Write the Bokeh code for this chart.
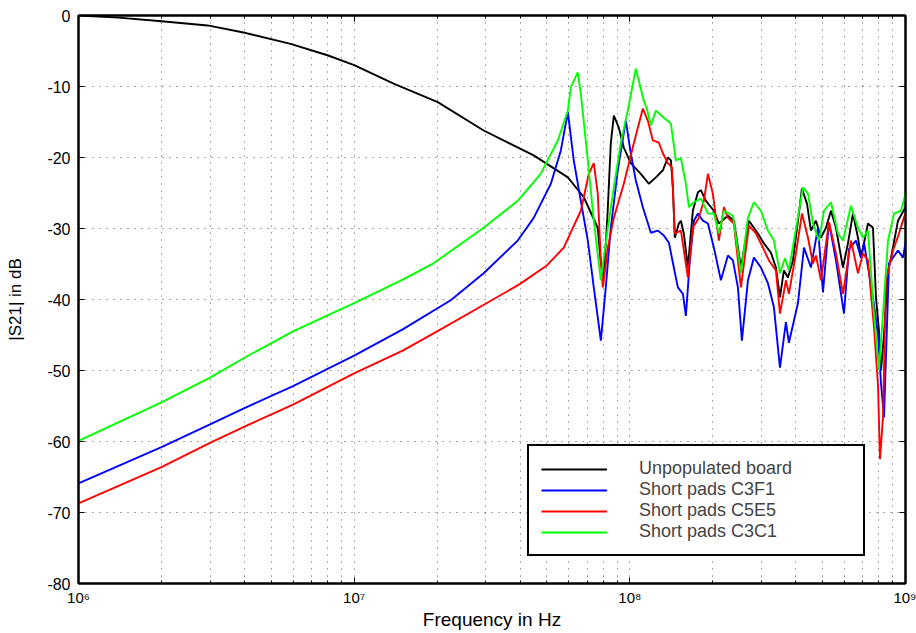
from bokeh.plotting import figure
from bokeh.models import FixedTicker, Legend, LegendItem, LinearAxis, LogAxis, Range1d
from bokeh.embed import file_html
from bokeh.resources import INLINE

FONT = "Liberation Sans"

# ---------------- data (frequency in MHz, |S21| in dB) ----------------
black_mhz = [1, 1.4, 2, 2.94, 3.97, 5.88, 8.0, 10, 13.9, 20.1,
             29.5, 44.8, 59.6, 68.1, 76.5, 78.5, 80.4, 83.0, 85.3, 87.5,
             91.2, 95.1, 100.8, 109.6, 117.2, 124.3, 131.8, 137.4, 140.9, 143.3,
             145.6, 150.6, 153.2, 157.0, 162.4, 169.3, 176.6, 181.0, 188.8, 201.8,
             210.4, 226.9, 238.5, 252.9, 270.4, 291.5, 306.5, 324.9, 338.8, 350.4,
             362.2, 374.5, 390.6, 407.3, 421.1, 439.1, 454.0, 473.4, 493.6, 514.6,
             536.6, 559.4, 593.1, 618.4, 644.8, 672.4, 689.5, 731.0, 762.1, 781.5,
             801.3, 814.8, 835.6, 864.0, 886.0, 939.3, 1000]
black_db = [0, -0.3, -0.8, -1.4, -2.4, -4.0, -5.6, -7.0, -9.6, -12.2,
            -16.2, -19.7, -22.8, -25.6, -29.9, -34.9, -36.9, -28.0, -18.0, -14.1,
            -15.8, -18.6, -20.8, -22.3, -23.7, -22.8, -21.8, -20.0, -20.4, -24.2,
            -31.3, -29.3, -28.9, -30.7, -35.5, -27.5, -24.9, -24.6, -26.1, -27.5,
            -29.3, -28.2, -28.9, -35.5, -28.9, -30.7, -32.1, -33.4, -35.5, -39.7,
            -35.9, -36.9, -34.5, -28.9, -24.4, -26.5, -30.3, -28.9, -31.3, -29.9,
            -27.5, -29.9, -35.5, -32.1, -27.9, -31.3, -34.1, -29.3, -29.9, -39.7,
            -44.4, -50.0, -45.0, -36.0, -34.1, -28.9, -27.0]

blue_mhz = [1, 2, 3, 4, 6, 10, 15, 22.4, 29.5, 39.2,
            44.8, 51.7, 56.2, 59.6, 62.6, 66.4, 70.4, 74.0, 78.5, 81.8,
            85.3, 90.4, 96.7, 100.8, 105.1, 111.5, 119.2, 126.4, 132.9, 138.6,
            144.4, 149.4, 155.8, 159.7, 165.1, 170.8, 176.6, 184.1, 192.0, 201.8,
            214.0, 226.9, 236.6, 246.6, 255.0, 268.2, 281.9, 298.9, 316.9, 333.2,
            350.4, 368.3, 377.6, 407.3, 428.2, 454.0, 481.4, 501.9, 527.7, 559.4,
            598.1, 623.6, 661.2, 689.5, 707.0, 762.1, 795, 814.8, 835.6, 871.3,
            939.3, 979.3, 1000]
blue_db = [-65.9, -60.8, -57.6, -55.3, -52.2, -47.9, -44.2, -40.1, -36.3, -31.7,
           -28.5, -23.7, -19.0, -13.6, -20.4, -26.1, -31.7, -38.3, -45.8, -38.3,
           -29.9, -21.8, -14.8, -19.4, -23.2, -27.0, -30.6, -30.3, -31.0, -32.0,
           -35.5, -38.3, -39.2, -42.3, -34.5, -28.9, -27.9, -28.9, -29.3, -32.7,
           -37.3, -33.8, -34.5, -38.3, -45.8, -37.3, -34.1, -35.5, -37.7, -41.1,
           -49.6, -43.2, -46.1, -40.5, -32.7, -35.5, -29.9, -39.0, -29.1, -34.5,
           -42.0, -32.9, -31.7, -34.1, -32.0, -39.7, -45.0, -51.8, -56.6, -34.9,
           -33.1, -34.1, -32.0]

red_mhz = [1, 2, 3, 4, 6, 10, 15, 20, 30, 40,
           50, 57.6, 66.4, 71.0, 74.0, 76.5, 78.5, 79.8, 83.2, 87.5,
           95.1, 103.4, 111.5, 116.2, 121.2, 127.4, 131.8, 137.4, 142.1, 145.6,
           153.2, 162.4, 169.3, 178.0, 185.6, 192.0, 200.1, 210.4, 219.4, 226.9,
           238.5, 252.9, 270.4, 286.7, 304.0, 319.6, 338.8, 350.4, 368.3, 377.6,
           400.5, 421.1, 442.8, 461.7, 473.4, 493.6, 527.7, 559.4, 593.1, 634.1,
           672.4, 701.0, 731.0, 768.6, 794.7, 808.0, 828.5, 849.5, 900.9, 947.2,
           987.6, 1000]
red_db = [-68.7, -63.6, -60.2, -57.9, -54.8, -50.4, -47.2, -44.5, -40.6, -37.8,
          -35.2, -32.7, -27.5, -22.3, -20.8, -25.1, -34.5, -38.3, -32.7, -28.5,
          -23.7, -18.0, -13.1, -14.8, -17.6, -17.9, -19.4, -20.8, -21.4, -30.7,
          -30.3, -36.9, -29.9, -28.5, -26.1, -22.3, -25.1, -31.7, -27.0, -28.5,
          -29.3, -38.3, -29.6, -30.7, -32.7, -34.5, -35.9, -42.0, -37.3, -39.2,
          -33.5, -27.9, -31.3, -34.9, -33.8, -37.3, -29.1, -33.5, -39.2, -31.7,
          -36.3, -33.5, -34.5, -43.9, -52.0, -62.5, -56.6, -37.3, -33.1, -30.7,
          -28.4, -28.0]

green_mhz = [1, 2, 3, 4, 6, 10, 15, 19.4, 29.5, 39.2,
             47.5, 54.8, 59.6, 61.1, 64.7, 66.4, 70.4, 74.0, 78.5, 83.2,
             87.5, 92.7, 98.3, 105.1, 112.4, 115, 119.2, 124.3, 132.9, 140.9,
             146.9, 153.2, 159.7, 163.8, 170.8, 181.0, 192.0, 201.8, 210.4, 219.4,
             236.6, 252.9, 268.2, 281.9, 298.9, 316.9, 333.2, 350.4, 365.3, 377.6,
             393.9, 424.6, 442.8, 461.7, 485.4, 506.1, 536.6, 568.9, 593.1, 634.1,
             672.4, 701.0, 731.0, 768.6, 801.3, 828.5, 864.0, 908.5, 963.1, 1000]
green_db = [-59.9, -54.5, -51.0, -48.2, -44.5, -40.5, -37.2, -34.9, -29.9, -26.1,
            -22.3, -17.6, -13.4, -10.1, -8.0, -11.0, -20.4, -28.9, -37.3, -29.9,
            -24.2, -18.0, -13.4, -7.5, -12.0, -13.0, -15.5, -13.4, -14.4, -15.2,
            -20.4, -20.1, -23.7, -27.0, -26.3, -25.8, -27.9, -27.9, -30.7, -27.5,
            -28.2, -36.3, -28.5, -26.3, -27.5, -30.3, -31.7, -36.3, -34.2, -35.9,
            -31.7, -24.2, -25.1, -29.3, -31.7, -27.5, -26.3, -30.7, -31.7, -26.8,
            -29.9, -31.3, -30.3, -42.0, -50.0, -42.0, -31.7, -27.9, -27.5, -25.1]

series_names = ["Unpopulated board", "Short pads C3F1", "Short pads C5E5", "Short pads C3C1"]
series_colors = ["#000000", "#0000ff", "#ff0000", "#00ff00"]
series_mhz = [black_mhz, blue_mhz, red_mhz, green_mhz]
series_db = [black_db, blue_db, red_db, green_db]

x_ticks = [1e6, 1e7, 1e8, 1e9]
x_tick_labels = ["10⁶", "10⁷", "10⁸", "10⁹"]
x_minor_mantissas = [2, 3, 4, 5, 6, 7, 8, 9]
y_ticks = [-80, -70, -60, -50, -40, -30, -20, -10, 0]
y_tick_labels = ["-80", "-70", "-60", "-50", "-40", "-30", "-20", "-10", "0"]

x_label = "Frequency in Hz"
y_label = "|S21| in dB"

# ---------------- figure ----------------
p = figure(width=916, height=633, x_axis_type="log",
           x_range=Range1d(x_ticks[0], x_ticks[-1]), y_range=Range1d(y_ticks[0], y_ticks[-1]),
           output_backend="svg", toolbar_location=None,
           min_border_left=78, min_border_right=11, min_border_top=15, min_border_bottom=50)
p.background_fill_color = "white"
p.border_fill_color = "white"
p.outline_line_color = "black"
p.outline_line_width = 2

xt = FixedTicker(ticks=x_ticks,
                 minor_ticks=[m * d for d in x_ticks[:-1] for m in x_minor_mantissas])
yt = FixedTicker(ticks=y_ticks, minor_ticks=[])

xa = p.xaxis[0]
xa.ticker = xt
xa.major_label_overrides = {float(t): s for t, s in zip(x_ticks, x_tick_labels)}
ya = p.yaxis[0]
ya.ticker = yt
ya.major_label_overrides = {float(t): s for t, s in zip(y_ticks, y_tick_labels)}

for ax in (xa, ya):
    ax.axis_line_width = 2
    ax.major_tick_in = 6
    ax.major_tick_out = 0
    ax.minor_tick_in = 3
    ax.minor_tick_out = 0
    ax.major_tick_line_width = 1
    ax.major_label_text_font = FONT
    ax.major_label_text_color = "black"
    ax.axis_label_text_font = FONT
    ax.axis_label_text_font_style = "normal"
    ax.axis_label_text_color = "black"

xa.major_label_text_font_size = "15px"
ya.major_label_text_font_size = "16px"
xa.axis_label = x_label
xa.axis_label_text_font_size = "19px"
xa.major_label_standoff = 5
xa.axis_label_standoff = 0
ya.axis_label = y_label
ya.axis_label_text_font_size = "17px"
ya.major_label_standoff = 8
ya.axis_label_standoff = 19

# box axes (top / right) with inward ticks only, labels invisible
top = LogAxis(ticker=xt, major_label_text_font_size="1px", major_label_text_alpha=0.0,
              major_label_standoff=0,
              axis_line_width=2, major_tick_in=6, major_tick_out=0,
              minor_tick_in=3, minor_tick_out=0)
right = LinearAxis(ticker=yt, major_label_text_font_size="1px", major_label_text_alpha=0.0,
                   major_label_standoff=0,
                   axis_line_width=2, major_tick_in=6, major_tick_out=0,
                   minor_tick_in=0, minor_tick_out=0)
p.add_layout(top, "above")
p.add_layout(right, "right")

for g, t in ((p.xgrid[0], xt), (p.ygrid[0], yt)):
    g.ticker = t
    g.grid_line_color = "black"
    g.grid_line_alpha = 0.65
    g.grid_line_dash = "1 6"
    g.grid_line_width = 1
p.xgrid[0].minor_grid_line_color = "black"
p.xgrid[0].minor_grid_line_alpha = 0.65
p.xgrid[0].minor_grid_line_dash = "1 6"

items = []
for name, color, mhz, db in zip(series_names, series_colors, series_mhz, series_db):
    r = p.line([f * 1e6 for f in mhz], db, line_color=color, line_width=1.9)
    items.append(LegendItem(label=name, renderers=[r]))

legend = Legend(items=items, location=(449, 27),
                label_text_font=FONT, label_text_font_size="18px",
                glyph_width=66, glyph_height=20, label_height=20, label_width=212,
                label_standoff=32, padding=12, spacing=0, margin=0,
                border_line_color="black", border_line_width=2, border_line_alpha=1.0,
                background_fill_color="white", background_fill_alpha=1.0)
p.add_layout(legend, "center")

open("out.html", "w").write(file_html(p, INLINE))
